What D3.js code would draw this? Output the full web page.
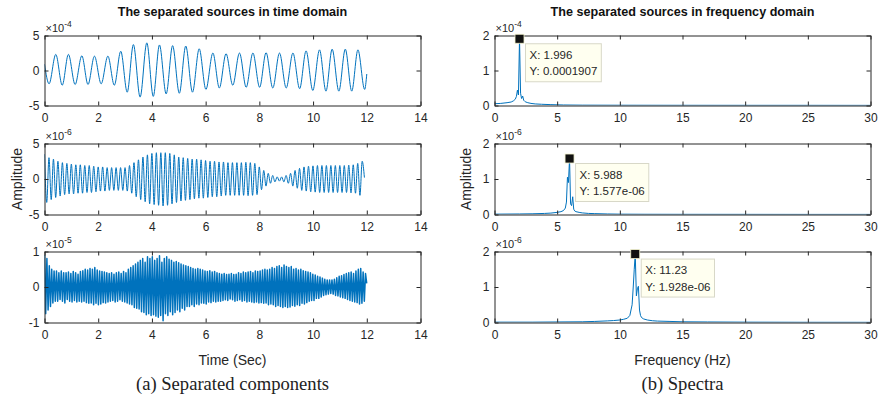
<!DOCTYPE html>
<html><head><meta charset="utf-8">
<script src="https://cdn.jsdelivr.net/npm/d3@7"></script>
<style>
body{margin:0;background:#fff}
svg{display:block}
text{font-family:"Liberation Sans",Arial,Helvetica,sans-serif}
</style>
</head><body><svg id="c" width="879" height="398"></svg>
<script>
// ---------------- DATA ----------------
// Source 1 (time domain), extrema, units x1e-4
const s1Times = [0,0.17,0.42,0.66,0.89,1.14,1.39,1.62,1.86,2.11,2.36,2.60,2.84,3.08,3.31,3.56,3.81,4.05,4.28,4.53,4.77,5.02,5.26,5.51,5.76,6.01,6.27,6.51,6.76,7.01,7.26,7.51,7.76,8.01,8.25,8.50,8.75,9.00,9.25,9.50,9.74,9.99,10.24,10.48,10.71,10.96,11.20,11.44,11.67,11.92,12.0];
const s1Values = [0.9,-1.9,2.3,-2.1,2.3,-2.0,2.1,-2.0,2.05,-1.9,2.05,-2.1,2.75,-3.1,3.7,-3.8,3.95,-3.7,3.65,-3.35,3.55,-3.25,3.5,-3.1,3.1,-2.7,2.5,-2.5,2.4,-2.1,2.5,-2.4,2.5,-2.4,2.55,-2.5,2.5,-2.5,2.5,-2.6,2.8,-2.85,2.95,-2.95,3.05,-2.95,3.05,-2.95,2.95,-2.7,-0.5];

// Source 2 (time domain), successive extrema, sample step in seconds, units x1e-6
const s2Step = 0.0833;
const s2Values = [
 3.5,-3.3,3.0,-2.9,2.8,-2.6,2.5,-2.4,2.3,-2.2,2.2,-2.1,
 2.1,-2.1,2.0,-2.0,2.0,-2.0,1.9,-1.9,1.9,-1.9,1.8,-1.8,
 1.7,-1.7,1.7,-1.7,1.6,-1.6,1.6,-1.6,1.6,-1.6,1.6,-1.6,
 1.6,-1.7,1.9,-2.0,2.3,-2.5,2.7,-2.9,3.1,-3.2,3.4,-3.5,
 3.6,-3.6,3.7,-3.7,3.7,-3.8,3.7,-3.7,3.6,-3.5,3.4,-3.3,
 3.1,-3.1,3.0,-3.0,2.9,-2.9,2.8,-2.8,2.8,-2.7,2.7,-2.7,
 2.6,-2.6,2.5,-2.5,2.5,-2.5,2.4,-2.4,2.4,-2.3,2.3,-2.3,
 2.3,-2.3,2.3,-2.3,2.3,-2.3,2.35,-2.35,2.3,-2.3,2.2,-2.2,
 1.7,-1.5,1.2,-1.0,0.8,-0.6,0.5,-0.4,0.3,-0.3,0.3,-0.4,
 0.5,-0.6,0.8,-1.0,1.2,-1.3,1.5,-1.6,1.7,-1.7,1.8,-1.8,
 1.85,-1.85,1.9,-1.9,1.9,-1.9,1.9,-1.9,1.9,-1.9,1.9,-1.9,
 1.9,-1.9,1.9,-1.9,1.95,-1.95,2.0,-2.0,2.2,-2.3,2.5,0.2];

// Source 3 (time domain), successive extrema, units x1e-5
const s3Step = 0.0446;
const s3Values = [
 0.9,-0.75,0.8,-0.65,0.6,-0.55,0.5,-0.45,0.45,-0.4,
 0.45,-0.4,0.4,-0.35,0.45,-0.4,0.4,-0.45,0.4,-0.35,
 0.42,-0.4,0.38,-0.42,0.44,-0.38,0.4,-0.42,0.36,-0.4,
 0.44,-0.42,0.46,-0.4,0.5,-0.44,0.48,-0.46,0.52,-0.45,
 0.5,-0.5,0.55,-0.46,0.48,-0.5,0.45,-0.48,0.44,-0.44,
 0.42,-0.45,0.4,-0.42,0.38,-0.4,0.4,-0.38,0.36,-0.42,
 0.4,-0.4,0.42,-0.36,0.38,-0.4,0.44,-0.42,0.4,-0.45,
 0.5,-0.48,0.55,-0.5,0.6,-0.58,0.65,-0.6,0.7,-0.62,
 0.75,-0.7,0.8,-0.72,0.7,-0.78,0.85,-0.75,0.8,-0.8,
 0.85,-0.78,0.75,-0.82,0.8,-0.85,0.88,-0.8,0.7,-0.95,
 0.8,-0.75,0.85,-0.8,0.78,-0.7,0.75,-0.78,0.7,-0.72,
 0.72,-0.65,0.68,-0.7,0.65,-0.6,0.62,-0.65,0.6,-0.55,
 0.58,-0.55,0.55,-0.5,0.52,-0.55,0.5,-0.48,0.52,-0.5,
 0.5,-0.45,0.48,-0.46,0.45,-0.48,0.44,-0.42,0.46,-0.44,
 0.42,-0.4,0.44,-0.42,0.4,-0.4,0.38,-0.4,0.36,-0.38,
 0.38,-0.36,0.35,-0.38,0.36,-0.34,0.38,-0.36,0.35,-0.4,
 0.36,-0.38,0.4,-0.36,0.38,-0.4,0.42,-0.38,0.4,-0.42,
 0.42,-0.4,0.44,-0.42,0.4,-0.44,0.45,-0.42,0.44,-0.45,
 0.45,-0.44,0.48,-0.46,0.5,-0.45,0.48,-0.5,0.5,-0.48,
 0.55,-0.5,0.52,-0.55,0.58,-0.52,0.6,-0.55,0.55,-0.58,
 0.62,-0.55,0.58,-0.58,0.55,-0.56,0.58,-0.52,0.5,-0.54,
 0.52,-0.5,0.48,-0.52,0.5,-0.46,0.46,-0.48,0.44,-0.44,
 0.42,-0.4,0.4,-0.38,0.36,-0.38,0.34,-0.32,0.3,-0.32,
 0.28,-0.28,0.25,-0.24,0.22,-0.22,0.2,-0.2,0.2,-0.18,
 0.2,-0.2,0.22,-0.24,0.26,-0.25,0.3,-0.28,0.32,-0.3,
 0.35,-0.32,0.38,-0.35,0.4,-0.38,0.42,-0.4,0.38,-0.42,
 0.45,-0.44,0.5,-0.48,0.52,-0.46,0.42,-0.4,0.38,0.1];

// Spectra (frequency in Hz, amplitude in the panel's scaled units)
const f1 = [0,0.5,1.0,1.33,1.50,1.66,1.75,1.83,1.91,1.996,2.08,2.16,2.25,2.33,2.41,2.5,2.66,2.91,3.25,3.75,4.5,5.5,7,10,15,20,25,30];
const a1 = [0.05,0.06,0.08,0.1,0.13,0.18,0.26,0.44,0.3,1.907,0.35,0.2,0.27,0.15,0.12,0.1,0.08,0.06,0.045,0.035,0.025,0.015,0.01,0.008,0.006,0.005,0.005,0.004];
const f2 = [0,2,3,4,4.5,5,5.3,5.5,5.65,5.74,5.82,5.90,5.988,6.07,6.15,6.24,6.32,6.4,6.5,6.75,7,7.5,8,9,10,12,15,20,25,30];
const a2 = [0.01,0.015,0.02,0.03,0.04,0.06,0.08,0.11,0.18,0.35,1.05,0.9,1.577,0.3,0.25,0.5,0.15,0.1,0.08,0.06,0.045,0.03,0.025,0.015,0.01,0.007,0.005,0.004,0.003,0.003];
const f3 = [0,3,5,7,8,9,9.5,10,10.3,10.6,10.8,10.98,11.07,11.15,11.23,11.32,11.40,11.48,11.57,11.65,11.73,11.9,12.2,12.6,13,14,15,17,20,25,30];
const a3 = [0.01,0.01,0.015,0.02,0.03,0.045,0.055,0.07,0.09,0.12,0.2,0.5,1.0,1.5,1.928,0.75,0.95,1.02,0.35,0.2,0.14,0.1,0.07,0.05,0.04,0.03,0.02,0.015,0.01,0.006,0.005];

// Axis ticks and exponents
const timeTicks = [0,2,4,6,8,10,12,14];
const freqTicks = [0,5,10,15,20,25,30];
const leftYTicks = [[-5,0,5],[-5,0,5],[-1,0,1]];
const rightYTicks = [0,1,2];
const leftExp = [-4,-6,-5];
const rightExp = [-4,-6,-6];

// Data tips
const tipX = [1.996, 5.988, 11.23];
const tipY = [0.0001907, 1.577e-06, 1.928e-06];
const tipTextX = ["X: 1.996","X: 5.988","X: 11.23"];
const tipTextY = ["Y: 0.0001907","Y: 1.577e-06","Y: 1.928e-06"];

const titles = ["The separated sources in time domain","The separated sources in frequency domain"];
const xLabels = ["Time (Sec)","Frequency (Hz)"];
const captions = ["(a) Separated components","(b) Spectra"];
const yLabel = "Amplitude";

// ---------------- LAYOUT ----------------
const svg = d3.select("#c");
const AX = "#262626", LINE = "#0072BD";
const cols = [{x0:44.5,x1:420.5},{x0:494.5,x1:870.5}];
const rows = [{y0:35.5,y1:105.5},{y0:143.5,y1:214.5},{y0:251.5,y1:322.5}];

const s1Pts = s1Times.map((t,i)=>[t,s1Values[i]]);
const s2Pts = s2Values.map((v,i)=>[i*s2Step,v]);
const s3Pts = s3Values.map((v,i)=>[i*s3Step,v]);
const timeSeries = [s1Pts,s2Pts,s3Pts];
const spectra = [f1.map((f,i)=>[f,a1[i]]), f2.map((f,i)=>[f,a2[i]]), f3.map((f,i)=>[f,a3[i]])];
const lineWidths = [1,1,1.5];

let clipId = 0;
function panel(col,row,xDom,yDom,xTicks,yTicks,pts,curve,exp,lw){
  const x = d3.scaleLinear().domain(xDom).range([col.x0,col.x1]);
  const y = d3.scaleLinear().domain(yDom).range([row.y1,row.y0]);
  const id = "clip"+(clipId++);
  svg.append("clipPath").attr("id",id).append("rect")
    .attr("x",col.x0).attr("y",row.y0).attr("width",col.x1-col.x0).attr("height",row.y1-row.y0);
  const g = svg.append("g");
  g.append("path").datum(pts).attr("clip-path",`url(#${id})`)
    .attr("fill","none").attr("stroke",LINE).attr("stroke-width",lw).attr("stroke-linejoin","round")
    .attr("d",d3.line().x(d=>x(d[0])).y(d=>y(d[1])).curve(curve));
  const fmt = d=>String(d);
  const styleAxis = a=>{a.attr("font-size",12).attr("font-family",null).attr("color",AX);
    a.selectAll("text").attr("fill",AX);};
  g.append("g").attr("transform",`translate(0,${row.y1})`)
    .call(d3.axisBottom(x).tickValues(xTicks).tickFormat(fmt).tickSizeInner(-4).tickSizeOuter(0).tickPadding(8)).call(styleAxis);
  g.append("g").attr("transform",`translate(0,${row.y0})`)
    .call(d3.axisTop(x).tickValues(xTicks).tickFormat("").tickSizeInner(-4).tickSizeOuter(0)).call(styleAxis);
  g.append("g").attr("transform",`translate(${col.x0},0)`)
    .call(d3.axisLeft(y).tickValues(yTicks).tickFormat(fmt).tickSizeInner(-4).tickSizeOuter(0).tickPadding(5)).call(styleAxis);
  g.append("g").attr("transform",`translate(${col.x1},0)`)
    .call(d3.axisRight(y).tickValues(yTicks).tickFormat("").tickSizeInner(-4).tickSizeOuter(0)).call(styleAxis);
  const t = g.append("text").attr("x",col.x0+1).attr("y",row.y0-3.5).attr("fill",AX).attr("font-size",11);
  t.append("tspan").text("\u00d710");
  t.append("tspan").attr("dy",-5.5).attr("font-size",8.5).text(String(exp));
  return {x,y};
}

const leftDomains = [[-5,5],[-5,5],[-1,1]];
const rightScales = [];
for(let r=0;r<3;r++){
  panel(cols[0],rows[r],[0,14],leftDomains[r],timeTicks,leftYTicks[r],timeSeries[r],
        r===2?d3.curveLinear:d3.curveMonotoneX,leftExp[r],lineWidths[r]);
  rightScales.push(panel(cols[1],rows[r],[0,30],[0,2],freqTicks,rightYTicks,spectra[r],d3.curveLinear,rightExp[r],1));
}

// Data tips
for(let r=0;r<3;r++){
  const {x,y} = rightScales[r];
  const mx = x(tipX[r]), my = y(tipY[r]/Math.pow(10,rightExp[r]));
  const bx = mx+6, by = my+5;
  const g = svg.append("g");
  const box = g.append("rect").attr("x",bx).attr("y",by).attr("height",38)
    .attr("fill","#fffff0").attr("stroke","#d8d8c8").attr("stroke-width",1);
  const t1 = g.append("text").attr("x",bx+4).attr("y",by+15).attr("font-size",11.5).attr("fill","#262626").text(tipTextX[r]);
  const t2 = g.append("text").attr("x",bx+4).attr("y",by+31.5).attr("font-size",11.5).attr("fill","#262626").text(tipTextY[r]);
  const w = Math.max(t1.node().getComputedTextLength(),t2.node().getComputedTextLength())+8;
  box.attr("width",w);
  g.append("rect").attr("x",mx-4.5).attr("y",my-4.5).attr("width",9).attr("height",9)
    .attr("fill","#111").attr("stroke","#f4f4d0").attr("stroke-width",0.8);
}

// Titles, labels, captions
for(let c=0;c<2;c++){
  const cx = (cols[c].x0+cols[c].x1)/2;
  svg.append("text").attr("x",cx).attr("y",16).attr("text-anchor","middle")
    .attr("font-size",12.6).attr("font-weight","bold").attr("fill","#111").text(titles[c]);
  svg.append("text").attr("x",cx).attr("y",364.5).attr("text-anchor","middle")
    .attr("font-size",14).attr("fill","#262626").text(xLabels[c]);
  svg.append("text").attr("x",cx).attr("y",390).attr("text-anchor","middle")
    .attr("font-size",18.6).attr("fill","#222").style("font-family","'Liberation Serif','Times New Roman',serif").text(captions[c]);
}
const yCenter = (rows[1].y0+rows[1].y1)/2;
[21.5,470.5].forEach(lx=>{
  svg.append("text").attr("transform",`translate(${lx},${yCenter}) rotate(-90)`)
    .attr("text-anchor","middle").attr("font-size",14).attr("fill","#262626").text(yLabel);
});
</script></body></html>
